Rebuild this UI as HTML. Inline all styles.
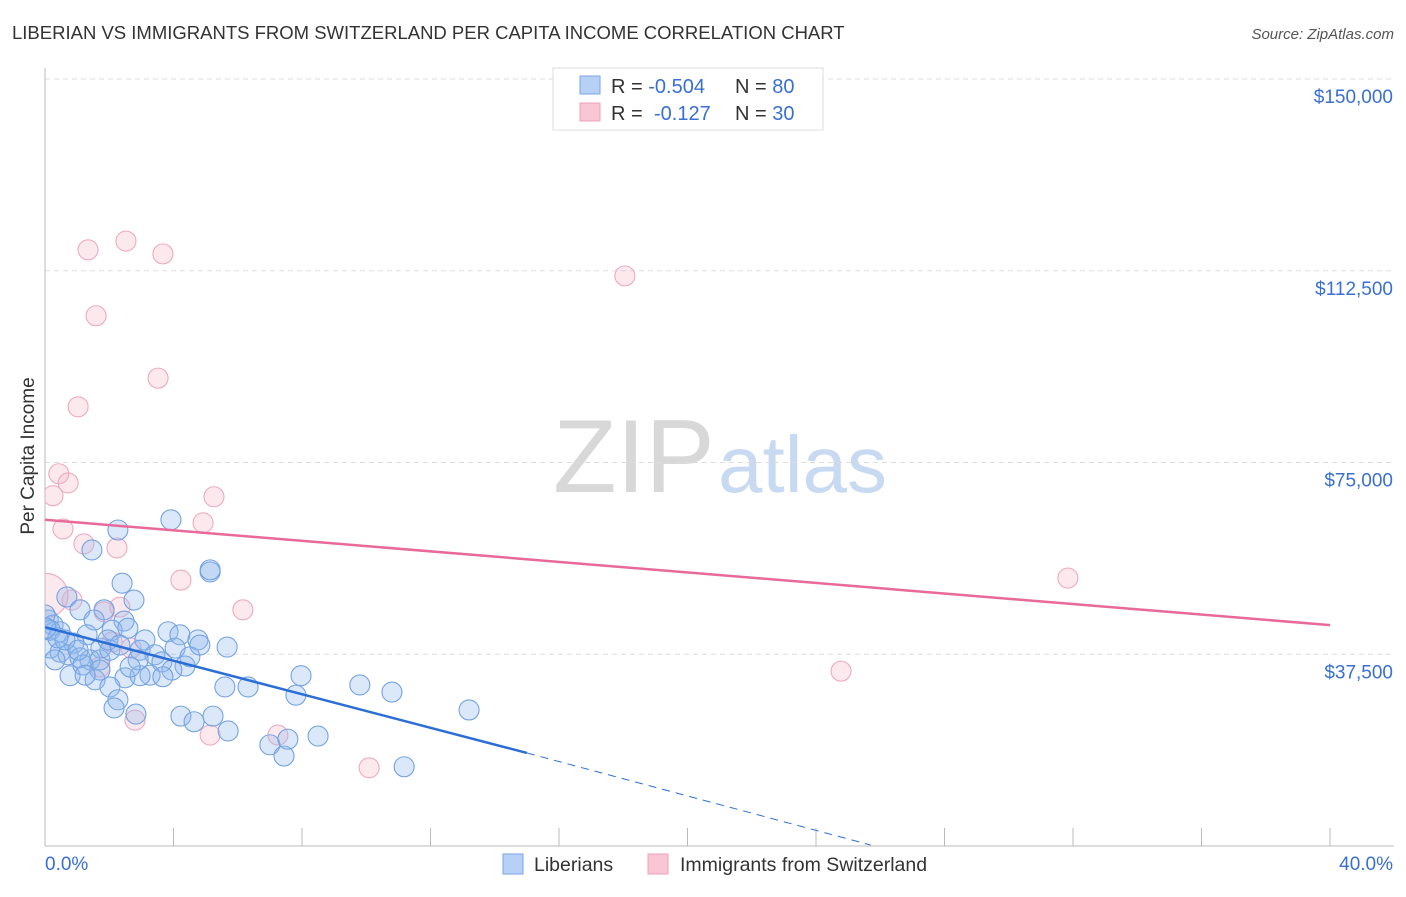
<!DOCTYPE html>
<html><head><meta charset="utf-8"><style>
body{margin:0;background:#fff;font-family:"Liberation Sans",sans-serif}
svg text{font-family:"Liberation Sans",sans-serif}
</style></head><body>
<svg id="chart" width="1406" height="892" viewBox="0 0 1406 892" xmlns="http://www.w3.org/2000/svg">
<defs><clipPath id="plotclip"><rect x="45" y="60" width="1360" height="786"/></clipPath></defs>
<text x="12" y="39" font-size="18.5" fill="#333">LIBERIAN VS IMMIGRANTS FROM SWITZERLAND PER CAPITA INCOME CORRELATION CHART</text>
<text x="1394" y="39" font-size="15" fill="#555" text-anchor="end" font-style="italic">Source: ZipAtlas.com</text>
<g>
<text x="553" y="492" font-size="104" fill="#d8d8d8" font-family="Liberation Serif, serif">ZIP</text>
<text x="718" y="492" font-size="80" fill="#c8daf2">atlas</text>
</g>
<g id="grid"></g>
<g id="axes"></g>
<g id="marks" clip-path="url(#plotclip)"></g>
<text transform="translate(34,456) rotate(-90)" font-size="19" fill="#333" text-anchor="middle">Per Capita Income</text>
<g>
<rect x="553" y="68" width="270" height="62" fill="#fff" stroke="#ddd"/>
<rect x="580" y="76" width="20" height="18" fill="#b7d0f5" stroke="#7aa5e6"/>
<rect x="580" y="103" width="20" height="18" fill="#f9c6d5" stroke="#eda0b8"/>
<text x="611" y="93" font-size="20" fill="#333">R = <tspan fill="#3a6fd4">-0.504</tspan><tspan x="735">N = </tspan><tspan fill="#3a6fd4">80</tspan></text>
<text x="611" y="120" font-size="20" fill="#333">R = <tspan x="654" fill="#3a6fd4">-0.127</tspan><tspan x="735">N = </tspan><tspan fill="#3a6fd4">30</tspan></text>
</g>
<g>
<rect x="503" y="854" width="20" height="20" fill="#b7d0f5" stroke="#7aa5e6"/>
<text x="534" y="871" font-size="19.5" fill="#333">Liberians</text>
<rect x="648" y="854" width="20" height="20" fill="#f9c6d5" stroke="#eda0b8"/>
<text x="680" y="871" font-size="19.5" fill="#333">Immigrants from Switzerland</text>
</g>
</svg>
<script>
const yTicks=[37500,75000,112500,150000];
const yTickLabels=["$37,500","$75,000","$112,500","$150,000"];
const xTickLabels=["0.0%","40.0%"];
const blueX=[3.92,2.27,1.46,5.14,2.4,2.77,0.68,1.09,1.84,1.53,2.46,0.1,0.25,2.09,0.47,2.58,3.83,4.2,3.11,4.76,5.67,1.31,0.9,1.74,0.16,0.47,0.72,1.09,1.4,1.71,0.31,2.02,2.96,3.42,4.05,4.51,3.64,4.36,3.95,3.27,2.49,1.56,0.78,2.96,3.67,2.02,2.27,2.15,2.83,5.6,6.32,7.97,7.81,9.8,10.8,4.23,4.64,5.23,5.7,7.0,7.44,7.56,8.5,11.18,13.2,0,0.16,0.62,1.18,2.9,5.14,1.96,1.03,0.4,0.03,2.65,1.71,2.33,4.82,1.25];
const blueY=[63.8,61.8,57.9,53.6,51.4,48.1,48.7,46.2,46.2,44.2,44.0,44.2,43.2,42.2,41.9,42.6,41.9,41.3,40.3,40.3,38.9,41.3,39.7,38.7,38.7,37.9,37.4,36.8,36.4,36.4,36.4,38.3,38.3,37.4,38.7,37.0,36.0,35.2,34.4,33.4,32.9,32.5,33.3,33.3,33.1,31.1,28.6,27.0,25.8,31.1,31.1,33.3,29.5,31.5,30.1,25.4,24.3,25.4,22.5,19.8,17.6,20.9,21.5,15.5,26.6,45.2,42.2,40.3,35.4,36.4,54.0,40.3,38.3,40.7,42.6,35.0,34.4,39.3,39.3,33.4];
const pinkX=[1.34,2.52,3.67,1.59,3.52,1.03,0.43,0.72,0.25,5.26,0.56,4.92,1.21,2.24,4.23,18.05,31.84,24.78,6.16,1.84,2.33,0.84,2.09,2.68,1.71,2.8,5.14,7.25,10.09,0.03];
const pinkY=[116.6,118.3,115.8,103.7,91.5,85.9,72.8,71.0,68.5,68.3,62.0,63.2,59.1,58.3,52.0,111.5,52.4,34.2,46.2,45.8,46.7,48.1,39.9,38.7,35.0,24.6,21.7,21.7,15.3,49.0];
const blueTrend=[[0,42.8],[15,18.2]];
const blueTrendExt=[[15,18.2],[25.7,0.2]];
const pinkTrend=[[0,63.8],[40,43.2]];
const NS="http://www.w3.org/2000/svg";
const X=v=>45+v/40*1285;
const Y=v=>846-v/150000*767;
const Yk=v=>Y(v*1000);
function mk(t,a,p){const e=document.createElementNS(NS,t);for(const k in a)e.setAttribute(k,a[k]);p.appendChild(e);return e;}
const grid=document.getElementById('grid'),axes=document.getElementById('axes'),marks=document.getElementById('marks');
yTicks.forEach((t,i)=>{
 const l=mk('line',{x1:45,x2:1394,y1:Y(t),y2:Y(t),stroke:'#ddd','stroke-dasharray':'5,4'},grid);
 
 
 const tx=mk('text',{x:1393,y:Y(t)+24,'font-size':19,fill:'#3a6fd4','text-anchor':'end'},axes);
 tx.textContent=yTickLabels[i];
 
 
});
const xa=mk('line',{x1:45,x2:1394,y1:846,y2:846,stroke:'#bbb'},axes);


const ya=mk('line',{x1:45,x2:45,y1:68,y2:846,stroke:'#bbb'},axes);


for(let i=0;i<=10;i++){
 const tk=mk('line',{x1:X(i*4),x2:X(i*4),y1:828,y2:846,stroke:'#bbb'},axes);
 
 
}
const xl0=mk('text',{x:45,y:870,'font-size':19,fill:'#3a6fd4'},axes);xl0.textContent=xTickLabels[0];


const xl1=mk('text',{x:1393,y:870,'font-size':19,fill:'#3a6fd4','text-anchor':'end'},axes);xl1.textContent=xTickLabels[1];


pinkX.forEach((x,i)=>{
 const r=i===pinkX.length-1?22:10;
 const c=mk('circle',{cx:X(x),cy:Yk(pinkY[i]),r:r,fill:'rgba(244,182,200,0.3)',stroke:'#eeaac0','stroke-width':1.1},marks);
 
 
});
blueX.forEach((x,i)=>{
 const c=mk('circle',{cx:X(x),cy:Yk(blueY[i]),r:10,fill:'rgba(147,186,236,0.33)',stroke:'#74a3e2','stroke-width':1.1},marks);
 
 
});
const pl=mk('line',{x1:X(pinkTrend[0][0]),y1:Yk(pinkTrend[0][1]),x2:X(pinkTrend[1][0]),y2:Yk(pinkTrend[1][1]),stroke:'#e8699a','stroke-width':2.5},marks);


const bl=mk('line',{x1:X(blueTrend[0][0]),y1:Yk(blueTrend[0][1]),x2:X(blueTrend[1][0]),y2:Yk(blueTrend[1][1]),stroke:'#2b6fd6','stroke-width':2.5},marks);


const be=mk('line',{x1:X(blueTrendExt[0][0]),y1:Yk(blueTrendExt[0][1]),x2:X(blueTrendExt[1][0]),y2:Yk(blueTrendExt[1][1]),stroke:'#2b6fd6','stroke-width':1,'stroke-dasharray':'8,6'},marks);


</script>
</body></html>
